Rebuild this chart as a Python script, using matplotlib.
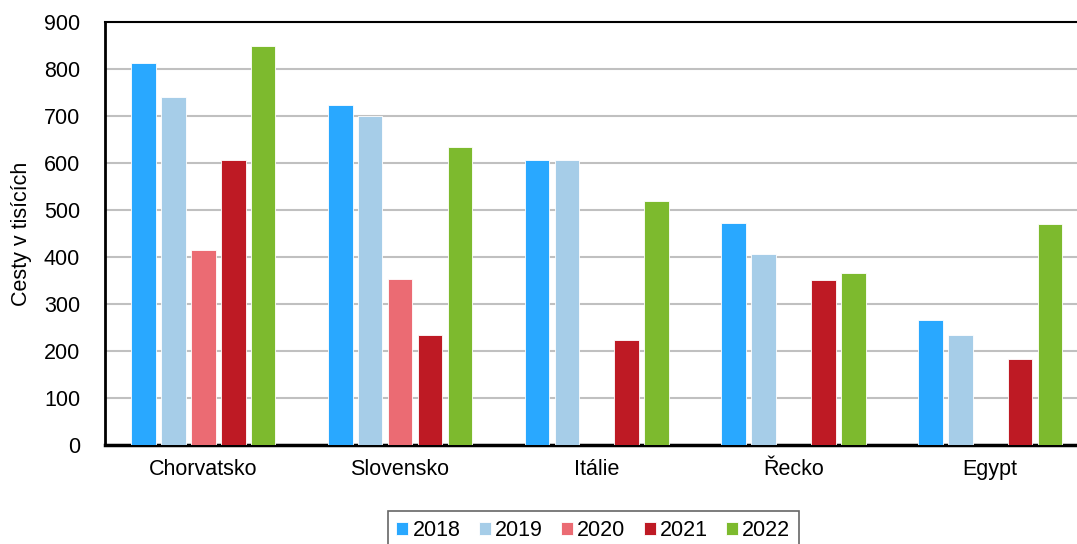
import numpy as np
import matplotlib
matplotlib.use("Agg")
import matplotlib.pyplot as plt

plt.rcParams["font.family"] = ["Liberation Sans", "DejaVu Sans"]

countries = ["Chorvatsko", "Slovensko", "Itálie", "Řecko", "Egypt"]
years = ["2018", "2019", "2020", "2021", "2022"]
v2018 = [813, 724, 607, 473, 265]
v2019 = [741, 699, 606, 407, 235]
v2020 = [414, 354, np.nan, np.nan, np.nan]
v2021 = [607, 235, 224, 352, 184]
v2022 = [848, 633, 520, 365, 471]
series = [v2018, v2019, v2020, v2021, v2022]
colors = ["#29A8FF", "#A6CDE8", "#EB6B73", "#BE1A24", "#7DBA2E"]

fig = plt.figure(figsize=(10.77, 5.44), dpi=100)
ax = fig.add_axes([0.0975, 0.182, 0.9132, 0.7776])

x = np.arange(len(countries))
pitch = 0.152
for i, (vals, col, yr) in enumerate(zip(series, colors, years)):
    ax.bar(x + (i - 2) * pitch, vals, width=0.125, color=col,
           edgecolor="white", linewidth=0.6, label=yr, zorder=3)

ax.set_xlim(-0.5, 4.5)
ax.set_ylim(0, 900)
ax.set_yticks(range(0, 901, 100))
ax.set_xticks(x)
ax.set_xticklabels(countries)
ax.tick_params(axis="both", length=0, labelsize=15.5)
ax.tick_params(axis="y", pad=18)
ax.tick_params(axis="x", pad=10)
ax.grid(axis="y", color="#c0c0c0", linewidth=1.5, zorder=0)
ax.set_axisbelow(True)
ax.set_ylabel("Cesty v tisících", fontsize=15.5)
ax.yaxis.set_label_coords(-0.074, 0.5)

ax.spines["right"].set_visible(False)
ax.spines["left"].set_linewidth(2)
ax.spines["bottom"].set_linewidth(2.5)
ax.spines["top"].set_linewidth(1.5)

leg = fig.legend(loc="lower center", bbox_to_anchor=(0.551, -0.03), ncol=5,
                 fontsize=15.5, frameon=True, fancybox=False, edgecolor="#404040",
                 handlelength=0.55, handleheight=0.55, handletextpad=0.2,
                 columnspacing=0.85, borderpad=0.4)
leg.get_frame().set_linewidth(1.2)

fig.savefig("out.png", dpi=100)
